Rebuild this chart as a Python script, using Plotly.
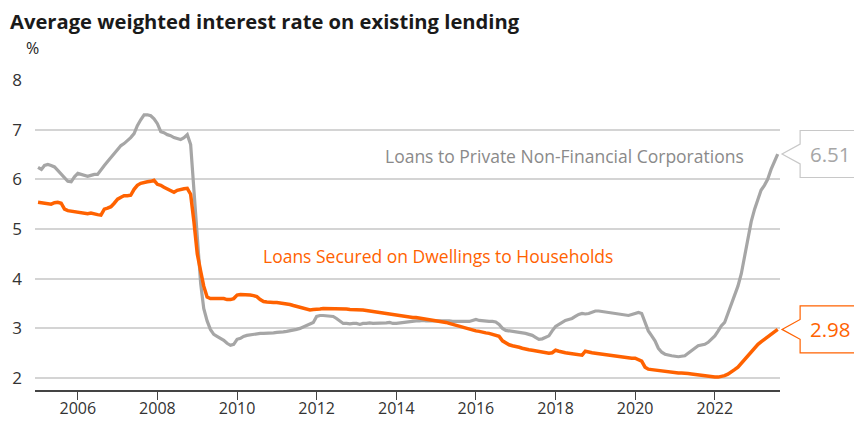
import plotly.graph_objects as go
import pandas as pd

dates = pd.date_range("2005-01-01", "2023-08-01", freq="MS")

corporations = [
    # 2005
    6.24, 6.20, 6.28, 6.30, 6.28, 6.25, 6.18, 6.10, 6.02, 5.96, 5.95, 6.05,
    # 2006
    6.12, 6.10, 6.08, 6.06, 6.08, 6.10, 6.10, 6.20, 6.28, 6.36, 6.44, 6.54,
    # 2007
    6.62, 6.68, 6.72, 6.78, 6.84, 6.92, 7.08, 7.20, 7.30, 7.30, 7.28, 7.22,
    # 2008
    7.12, 6.96, 6.94, 6.90, 6.88, 6.84, 6.82, 6.80, 6.84, 6.90, 6.70, 5.80,
    # 2009
    4.70, 3.90, 3.40, 3.15, 2.98, 2.88, 2.84, 2.80, 2.76, 2.70, 2.66, 2.68,
    # 2010
    2.78, 2.80, 2.84, 2.86, 2.87, 2.88, 2.90, 2.90, 2.90, 2.90, 2.91, 2.91,
    # 2011
    2.92, 2.92, 2.93, 2.94, 2.95, 2.96, 2.98, 3.00, 3.03, 3.05, 3.08, 3.12,
    # 2012
    3.24, 3.26, 3.26, 3.25, 3.25, 3.24, 3.20, 3.15, 3.10, 3.10, 3.09, 3.10,
    # 2013
    3.10, 3.08, 3.10, 3.10, 3.11, 3.10, 3.10, 3.11, 3.10, 3.11, 3.12, 3.10,
    # 2014
    3.10, 3.11, 3.12, 3.12, 3.14, 3.15, 3.15, 3.15, 3.16, 3.15, 3.15, 3.15,
    # 2015
    3.15, 3.15, 3.16, 3.15, 3.15, 3.14, 3.14, 3.14, 3.13, 3.13, 3.14, 3.16,
    # 2016
    3.18, 3.16, 3.15, 3.14, 3.14, 3.14, 3.13, 3.08, 3.00, 2.96, 2.95, 2.95,
    # 2017
    2.94, 2.93, 2.92, 2.90, 2.88, 2.86, 2.82, 2.78, 2.79, 2.82, 2.85, 2.95,
    # 2018
    3.04, 3.08, 3.12, 3.16, 3.18, 3.20, 3.24, 3.28, 3.30, 3.29, 3.30, 3.33,
    # 2019
    3.35, 3.35, 3.34, 3.33, 3.32, 3.31, 3.30, 3.29, 3.28, 3.27, 3.26, 3.28,
    # 2020
    3.30, 3.32, 3.30, 3.12, 2.95, 2.85, 2.75, 2.60, 2.52, 2.48, 2.46, 2.45,
    # 2021
    2.44, 2.43, 2.44, 2.45, 2.50, 2.56, 2.60, 2.65, 2.67, 2.68, 2.72, 2.78,
    # 2022
    2.85, 2.95, 3.05, 3.12, 3.30, 3.48, 3.62, 3.85, 4.10, 4.45, 4.80, 5.15,
    # 2023
    5.40, 5.62, 5.78, 5.88, 6.00, 6.20, 6.35, 6.51,
]

households = [
    # 2005
    5.54, 5.53, 5.52, 5.51, 5.50, 5.53, 5.54, 5.52, 5.40, 5.37, 5.36, 5.35,
    # 2006
    5.33, 5.33, 5.32, 5.31, 5.32, 5.30, 5.29, 5.28, 5.40, 5.42, 5.45, 5.52,
    # 2007
    5.60, 5.64, 5.67, 5.67, 5.68, 5.80, 5.88, 5.92, 5.94, 5.95, 5.96, 5.98,
    # 2008
    5.90, 5.88, 5.84, 5.80, 5.76, 5.74, 5.78, 5.80, 5.81, 5.82, 5.70, 5.15,
    # 2009
    4.50, 4.15, 3.85, 3.63, 3.60, 3.60, 3.60, 3.59, 3.60, 3.58, 3.58, 3.60,
    # 2010
    3.67, 3.68, 3.68, 3.68, 3.67, 3.66, 3.64, 3.58, 3.54, 3.53, 3.52, 3.52,
    # 2011
    3.52, 3.51, 3.50, 3.50, 3.48, 3.46, 3.44, 3.42, 3.40, 3.38, 3.37, 3.38,
    # 2012
    3.38, 3.39, 3.40, 3.40, 3.40, 3.40, 3.39, 3.40, 3.39, 3.39, 3.38, 3.38,
    # 2013
    3.38, 3.37, 3.37, 3.36, 3.35, 3.34, 3.33, 3.32, 3.30, 3.29, 3.28, 3.27,
    # 2014
    3.27, 3.26, 3.25, 3.24, 3.23, 3.22, 3.22, 3.21, 3.20, 3.19, 3.18, 3.17,
    # 2015
    3.16, 3.15, 3.13, 3.12, 3.10, 3.08, 3.06, 3.04, 3.02, 3.00, 2.99, 2.97,
    # 2016
    2.95, 2.94, 2.92, 2.91, 2.90, 2.88, 2.86, 2.84, 2.75, 2.70, 2.67, 2.65,
    # 2017
    2.64, 2.62, 2.60, 2.58, 2.57, 2.56, 2.55, 2.53, 2.52, 2.51, 2.50, 2.51,
    # 2018
    2.56, 2.54, 2.52, 2.51, 2.50, 2.49, 2.48, 2.47, 2.46, 2.54, 2.52, 2.51,
    # 2019
    2.50, 2.49, 2.48, 2.47, 2.46, 2.45, 2.45, 2.44, 2.43, 2.42, 2.41, 2.40,
    # 2020
    2.40, 2.36, 2.34, 2.22, 2.18, 2.17, 2.16, 2.15, 2.14, 2.13, 2.12, 2.12,
    # 2021
    2.11, 2.10, 2.10, 2.10, 2.09, 2.08, 2.07, 2.06, 2.06, 2.05, 2.04, 2.03,
    # 2022
    2.02, 2.02, 2.03, 2.05, 2.08, 2.12, 2.17, 2.22, 2.30, 2.38, 2.46, 2.52,
    # 2023
    2.60, 2.68, 2.73, 2.78, 2.82, 2.86, 2.92, 2.98,
]

tick_years = [2006, 2008, 2010, 2012, 2014, 2016, 2018, 2020, 2022]
y_ticks = [2, 3, 4, 5, 6, 7, 8]

GRAY = "#a6a6a6"
GRAY_TEXT = "#8a8a8a"
ORANGE = "#ff6200"
FONT = "Open Sans"

Y_MIN, Y_MAX = 1.76, 8.0

fig = go.Figure()
fig.add_trace(go.Scatter(x=dates, y=corporations, mode="lines",
                         line=dict(color=GRAY, width=3.2), hoverinfo="skip"))
fig.add_trace(go.Scatter(x=dates, y=households, mode="lines",
                         line=dict(color=ORANGE, width=3.5), hoverinfo="skip"))


def to_paper_y(v):
    return (v - Y_MIN) / (Y_MAX - Y_MIN)


def callout(value, color, text_color):
    yc = to_paper_y(value)
    half = 0.473 / (Y_MAX - Y_MIN)
    notch = 0.2 / (Y_MAX - Y_MIN)
    x_tip, x_box, x_end = 1.0027, 1.027, 1.12
    path = (f"M {x_box},{yc + notch} L {x_box},{yc + half} L {x_end},{yc + half} "
            f"L {x_end},{yc - half} L {x_box},{yc - half} L {x_box},{yc - notch} "
            f"L {x_tip},{yc} Z")
    fig.add_shape(type="path", path=path, xref="paper", yref="paper",
                  line=dict(color=color, width=1.2), fillcolor="white", layer="above")
    fig.add_annotation(x=1.038, y=yc, xref="paper", yref="paper", xanchor="left",
                       yanchor="middle", text=f"{value:.2f}", showarrow=False,
                       font=dict(family=FONT, size=20.5, color=text_color))


callout(corporations[-1], "#c8c8c8", "#a6a6a6")
callout(households[-1], ORANGE, ORANGE)

fig.add_annotation(x=pd.Timestamp("2013-09-05"), y=6.48, xref="x", yref="y",
                   text="Loans to Private Non-Financial Corporations", showarrow=False,
                   xanchor="left", yanchor="middle",
                   font=dict(family=FONT, size=17.5, color=GRAY_TEXT))
fig.add_annotation(x=pd.Timestamp("2010-08-10"), y=4.45, xref="x", yref="y",
                   text="Loans Secured on Dwellings to Households", showarrow=False,
                   xanchor="left", yanchor="middle",
                   font=dict(family=FONT, size=17.5, color=ORANGE))
fig.add_annotation(x=-0.003, y=1.103, xref="paper", yref="paper", text="%",
                   showarrow=False, xanchor="center", yanchor="middle",
                   font=dict(family=FONT, size=16, color="#222222"))

fig.update_layout(
    width=854, height=423,
    margin=dict(l=35, r=74, t=80, b=33, autoexpand=False),
    paper_bgcolor="white", plot_bgcolor="white",
    showlegend=False,
    title=dict(text="<b>Average weighted interest rate on existing lending</b>",
               x=10 / 854, xanchor="left", xref="container",
               y=1 - 22 / 423, yanchor="middle", yref="container",
               font=dict(family=FONT, size=20.2, color="#1a1a1a")),
    font=dict(family=FONT),
)

fig.update_xaxes(
    type="date", automargin=False,
    range=["2004-12-04", "2023-08-22"],
    tickvals=[pd.Timestamp(f"{y}-01-01") for y in tick_years],
    ticktext=[str(y) for y in tick_years],
    showgrid=False, zeroline=False,
    showline=True, linecolor="#444444", linewidth=1.5,
    ticks="outside", ticklen=8, tickcolor="#444444", tickwidth=1,
    ticklabelstandoff=-5,
    tickfont=dict(family=FONT, size=16, color="#333333"),
)
fig.update_yaxes(
    range=[Y_MIN, Y_MAX], automargin=False,
    tickvals=y_ticks,
    showgrid=True, gridcolor="#d4d4d4", gridwidth=1.5,
    zeroline=False, showline=False,
    ticks="", ticklabelstandoff=12,
    tickfont=dict(family=FONT, size=17, color="#333333"),
)

fig.write_html("out.html")
